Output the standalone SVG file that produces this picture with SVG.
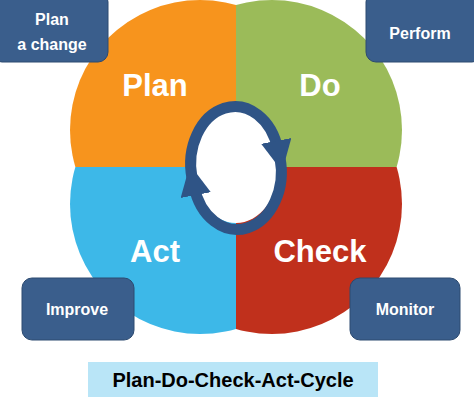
<svg xmlns="http://www.w3.org/2000/svg" width="474" height="403" viewBox="0 0 474 403">
<style>
.big{font-family:"Liberation Sans",Arial,sans-serif;font-weight:bold;font-size:31px;fill:#fff;text-anchor:middle}
.box{fill:#3A5E8C;stroke:#2C4A70;stroke-width:1}
.bt{font-family:"Liberation Sans",Arial,sans-serif;font-weight:bold;font-size:16px;fill:#fff;text-anchor:middle}
.ring{fill:none;stroke:#2F5486;stroke-width:11}
</style>
<defs>
<clipPath id="q1"><rect x="0" y="0" width="236" height="167"/></clipPath>
<clipPath id="q2"><rect x="236" y="0" width="238" height="167"/></clipPath>
<clipPath id="q3"><rect x="0" y="167" width="236" height="236"/></clipPath>
<clipPath id="q4"><rect x="236" y="167" width="238" height="236"/></clipPath>
<marker id="ah" viewBox="0 0 10 10" refX="3" refY="5" markerWidth="2.8" markerHeight="2.8" orient="auto"><path d="M0,0 L10,5 L0,10 Z" fill="#2F5486"/></marker>
</defs>
<g id="plan"><circle cx="200" cy="130" r="130" fill="#F7941D" clip-path="url(#q1)"/><text class="big" x="155" y="96">Plan</text></g>
<g id="do"><circle cx="272" cy="130" r="130" fill="#9BBB59" clip-path="url(#q2)"/><text class="big" x="320" y="96">Do</text></g>
<g id="act"><circle cx="200" cy="204" r="130" fill="#3DB8E8" clip-path="url(#q3)"/><text class="big" x="155" y="262">Act</text></g>
<g id="check"><circle cx="272" cy="204" r="130" fill="#C0301C" clip-path="url(#q4)"/><text class="big" x="320" y="262">Check</text></g>
<g id="connectors">
<ellipse cx="236" cy="167" rx="43" ry="56" fill="#fff"/>
<path class="ring" d="M192,178 A44,57 0 0 1 278,150" marker-end="url(#ah)"/>
<path class="ring" d="M280,158 A44,57 0 0 1 194,186" marker-end="url(#ah)"/>
</g>
<g id="n-plan-a-change"><rect class="box" x="-8" y="-8" width="116" height="70" rx="10"/><text class="bt" x="52" y="25">Plan</text><text class="bt" x="52" y="50">a change</text></g>
<g id="n-perform"><rect class="box" x="366" y="-8" width="116" height="70" rx="10"/><text class="bt" x="420" y="39">Perform</text></g>
<g id="n-improve"><rect class="box" x="22" y="278" width="112" height="62" rx="10"/><text class="bt" x="77" y="315">Improve</text></g>
<g id="n-monitor"><rect class="box" x="350" y="278" width="110" height="62" rx="10"/><text class="bt" x="405" y="315">Monitor</text></g>
<g id="title"><rect x="88" y="362" width="290" height="35" fill="#B9E5F7"/><text x="233" y="387" font-family="'Liberation Sans',Arial,sans-serif" font-weight="bold" font-size="20" text-anchor="middle" fill="#000">Plan-Do-Check-Act-Cycle</text></g>
</svg>
